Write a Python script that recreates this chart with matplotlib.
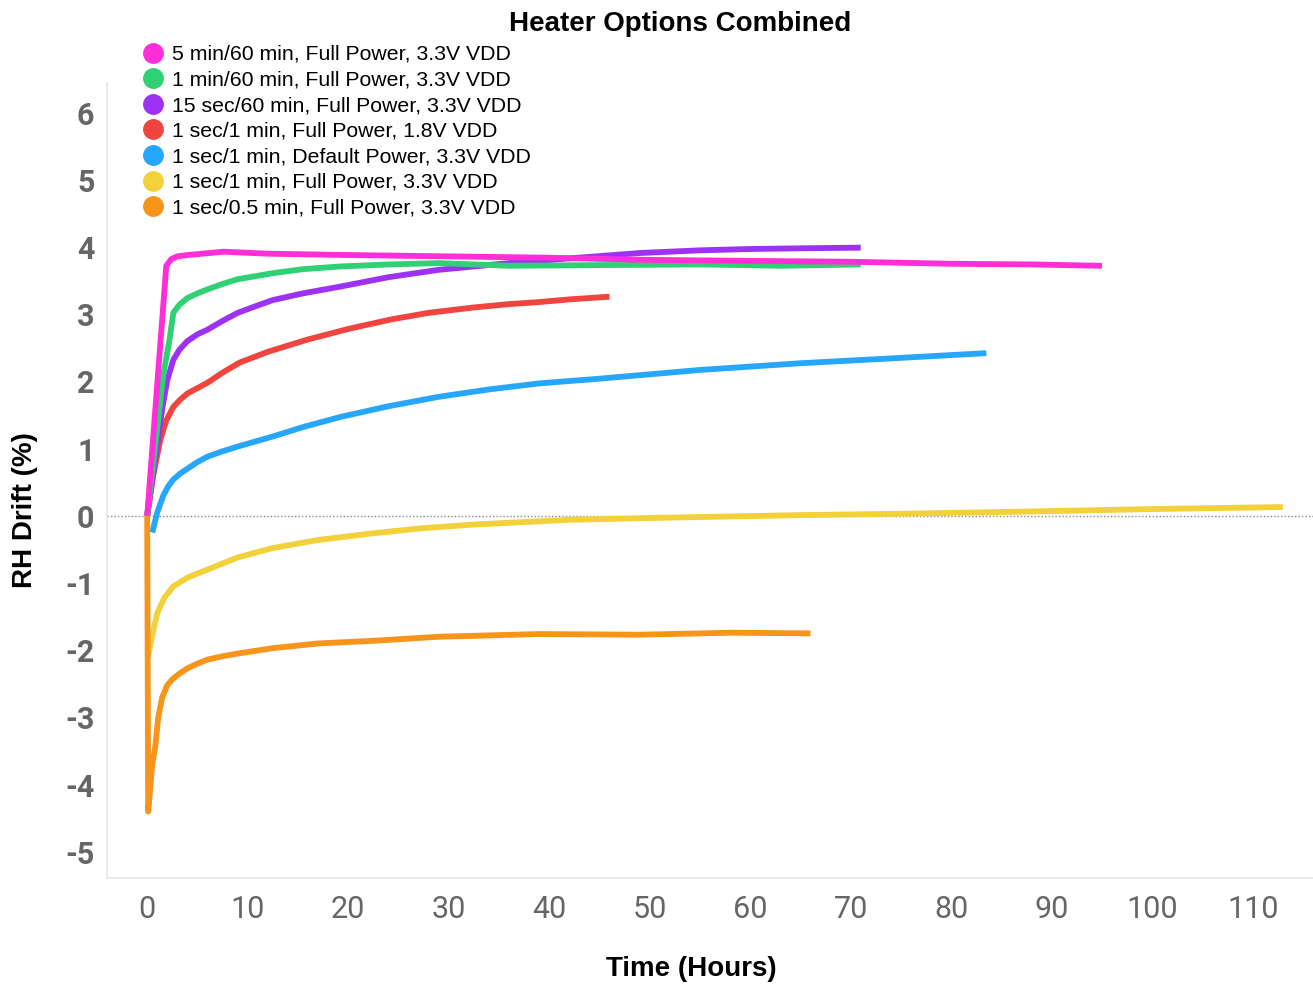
import matplotlib
matplotlib.use("Agg")
import matplotlib.pyplot as plt
from matplotlib.lines import Line2D

labels = [
    "5 min/60 min, Full Power, 3.3V VDD",
    "1 min/60 min, Full Power, 3.3V VDD",
    "15 sec/60 min, Full Power, 3.3V VDD",
    "1 sec/1 min, Full Power, 1.8V VDD",
    "1 sec/1 min, Default Power, 3.3V VDD",
    "1 sec/1 min, Full Power, 3.3V VDD",
    "1 sec/0.5 min, Full Power, 3.3V VDD",
]
colors = ["#ff2ed8", "#2fd174", "#9d32f5", "#f0453f", "#27a7fb", "#f2d13a", "#f7941a"]

magenta_x = [0, 1.9, 2.4, 3.0, 4, 5.5, 7.6, 12, 20, 30, 40, 49, 55, 62, 70, 80, 88, 95]
magenta_y = [0, 3.72, 3.82, 3.86, 3.88, 3.9, 3.93, 3.9, 3.88, 3.86, 3.84, 3.81, 3.8, 3.79, 3.78, 3.75, 3.74, 3.72]

green_x = [0, 1.6, 2.2, 2.6, 3.2, 4, 5, 6, 7.5, 9, 12.5, 15.5, 19.2, 24, 29, 36, 45, 55, 63, 71]
green_y = [0, 2.1, 2.6, 3.02, 3.14, 3.24, 3.31, 3.37, 3.45, 3.52, 3.61, 3.67, 3.71, 3.74, 3.76, 3.72, 3.73, 3.74, 3.72, 3.74]

purple_x = [0, 1.5, 2.0, 2.6, 3.2, 4, 5, 6, 7.5, 9, 11, 12.5, 15.5, 19.2, 24, 29, 36, 42, 49, 55, 60, 65, 71]
purple_y = [0, 1.6, 2.02, 2.32, 2.47, 2.6, 2.7, 2.77, 2.9, 3.02, 3.13, 3.21, 3.31, 3.41, 3.55, 3.66, 3.76, 3.83, 3.91, 3.95, 3.97, 3.98, 3.99]

red_x = [0, 0.6, 1.3, 1.9, 2.6, 3.3, 4, 5, 6, 7.5, 9.2, 12, 15.9, 20, 24.2, 28, 32.5, 36, 39, 42, 46]
red_y = [0, 0.6, 1.13, 1.42, 1.62, 1.73, 1.82, 1.9, 1.98, 2.13, 2.28, 2.44, 2.62, 2.78, 2.92, 3.02, 3.1, 3.15, 3.18, 3.22, 3.26]

blue_x = [0.5, 1.0, 1.6, 2.1, 2.6, 3.3, 4, 5, 6, 7.5, 9, 12.5, 15.5, 19.2, 24, 29, 34, 39, 45, 55, 65, 75, 83.5]
blue_y = [-0.25, 0.05, 0.3, 0.44, 0.54, 0.63, 0.7, 0.8, 0.88, 0.96, 1.03, 1.18, 1.32, 1.47, 1.63, 1.77, 1.88, 1.97, 2.04, 2.17, 2.27, 2.35, 2.42]

yellow_x = [0.1, 0.4, 1.0, 1.7, 2.6, 4, 6, 9, 12.5, 17, 22.5, 27, 32.5, 42, 51, 65, 75, 86.5, 100, 113]
yellow_y = [-2.1, -1.85, -1.45, -1.22, -1.05, -0.92, -0.8, -0.62, -0.48, -0.36, -0.26, -0.19, -0.13, -0.06, -0.03, 0.01, 0.03, 0.06, 0.1, 0.13]

orange_x = [0, 0.1, 0.5, 0.8, 1.1, 1.5, 2.0, 2.6, 3.3, 4, 5, 6, 7.5, 9, 12.5, 17, 22.5, 29, 39, 49, 58, 66]
orange_y = [0, -4.4, -3.7, -3.44, -3.0, -2.7, -2.52, -2.42, -2.34, -2.27, -2.2, -2.14, -2.09, -2.05, -1.97, -1.9, -1.86, -1.8, -1.76, -1.77, -1.74, -1.75]

series = [
    (yellow_x, yellow_y, colors[5]),
    (blue_x, blue_y, colors[4]),
    (red_x, red_y, colors[3]),
    (purple_x, purple_y, colors[2]),
    (green_x, green_y, colors[1]),
    (magenta_x, magenta_y, colors[0]),
    (orange_x, orange_y, colors[6]),
]

xticks = list(range(0, 111, 10))
yticks = list(range(-5, 7))

W, H = 1313, 986
fig = plt.figure(figsize=(W / 100, H / 100), dpi=100)
ax = fig.add_axes([107 / W, 1 - 878 / H, (1313 - 107) / W, (878 - 83) / H])

ax.axhline(0, color="#888888", lw=1.0, ls=(0, (1, 1.5)), zorder=1)
for xs, ys, c in series:
    ax.plot(xs, ys, color=c, lw=4.2, solid_capstyle="butt", solid_joinstyle="round", zorder=2)

ax.set_xlim(-4, 116)
ax.set_ylim(-5.39, 6.44)
ax.set_xticks(xticks)
ax.set_yticks(yticks)
ax.set_xticklabels([str(t) for t in xticks], fontsize=22, color="#666666", family="Roboto")
ax.set_yticklabels([str(t) for t in yticks], fontsize=22, color="#666666", family="Roboto", fontweight="bold")
ax.tick_params(axis="both", length=0)
ax.tick_params(axis="x", pad=12)
ax.tick_params(axis="y", pad=9)

for s in ["top", "right"]:
    ax.spines[s].set_visible(False)
for s in ["left", "bottom"]:
    ax.spines[s].set_color("#e6e6e6")
    ax.spines[s].set_linewidth(1.2)

fig.text(680 / W, 1 - 24 / H, "Heater Options Combined", ha="center", va="center",
         fontsize=20, fontweight="bold", family="Liberation Sans")
fig.text(691 / W, 1 - 969 / H, "Time (Hours)", ha="center", va="center",
         fontsize=20, fontweight="bold", family="Liberation Sans")
fig.text(25 / W, 1 - 510 / H, "RH Drift (%)", ha="center", va="center", rotation=90,
         fontsize=20, fontweight="bold", family="Liberation Sans")

handles = [Line2D([], [], ls="none", marker="o", markersize=14, color=c) for c in colors]
leg = fig.legend(handles, labels, loc="upper left", bbox_to_anchor=(142 / W, 1 - 45 / H),
                 frameon=False, prop={"family": "Liberation Sans", "size": 15.3},
                 handlelength=1.0, handletextpad=0.42, labelspacing=0.31, borderpad=0,
                 borderaxespad=0)

fig.savefig("out.png", dpi=100)
